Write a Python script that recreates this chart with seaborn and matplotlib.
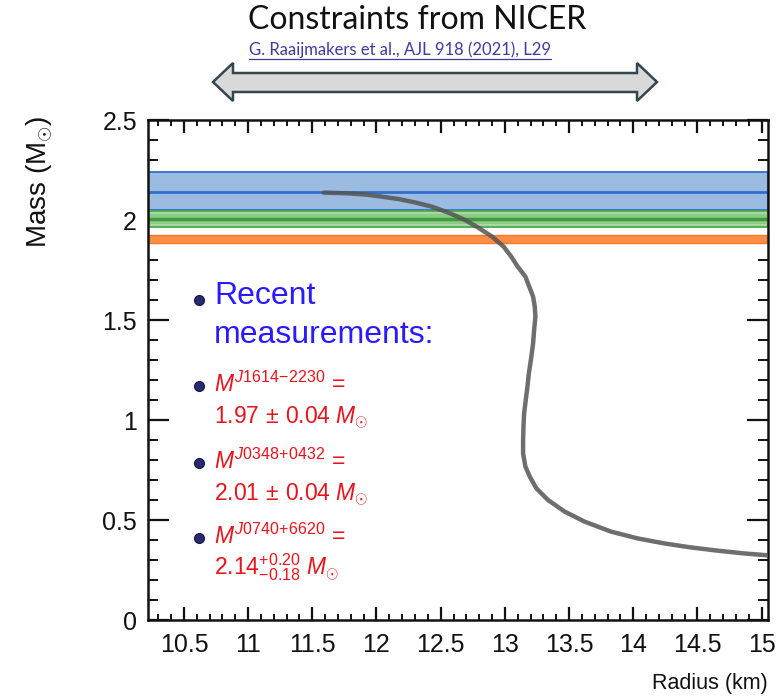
import matplotlib
matplotlib.use("Agg")
import matplotlib.pyplot as plt
import seaborn as sns
import numpy as np
import pandas as pd
from matplotlib.patches import Polygon
from matplotlib.lines import Line2D
from matplotlib.ticker import MultipleLocator

# Mass-radius relation (km, solar masses)
radius_km = [11.59, 11.79, 11.92, 12.04, 12.17, 12.30, 12.43, 12.56, 12.69,
             12.79, 12.90, 12.99, 13.05, 13.10, 13.16, 13.19, 13.22, 13.233,
             13.238, 13.228, 13.22, 13.205, 13.187, 13.176, 13.163,
             13.150, 13.145, 13.142, 13.142, 13.160, 13.194, 13.246, 13.336,
             13.466, 13.621, 13.827, 14.034, 14.241, 14.447, 14.654, 14.861,
             15.016, 15.06]
mass_msun = [2.137, 2.133, 2.127, 2.117, 2.105, 2.088, 2.067, 2.037, 2.000,
             1.963, 1.917, 1.867, 1.817, 1.767, 1.717, 1.667, 1.617, 1.567,
             1.517, 1.450, 1.383, 1.310, 1.233, 1.167, 1.100,
             1.033, 0.967, 0.900, 0.833, 0.767, 0.717, 0.658, 0.600,
             0.542, 0.492, 0.442, 0.408, 0.383, 0.363, 0.347, 0.333,
             0.325, 0.322]

# Pulsar mass bands: centre, upper error, lower error
band_names = ["J0740+6620", "J0348+0432", "J1614-2230"]
band_center = [2.14, 2.005, 1.905]
band_up = [0.10, 0.04, 0.022]
band_dn = [0.09, 0.04, 0.022]

x_ticks = [10.5, 11, 11.5, 12, 12.5, 13, 13.5, 14, 14.5, 15]
x_tick_labels = ["10.5", "11", "11.5", "12", "12.5", "13", "13.5", "14", "14.5", "15"]
y_ticks = [0, 0.5, 1, 1.5, 2, 2.5]
y_tick_labels = ["0", "0.5", "1", "1.5", "2", "2.5"]

sns.set_theme(style="ticks")
plt.rcParams["font.family"] = ["Liberation Sans", "DejaVu Sans"]
plt.rcParams["mathtext.fontset"] = "custom"
plt.rcParams["mathtext.rm"] = "Liberation Sans"
plt.rcParams["mathtext.it"] = "Liberation Sans:italic"
plt.rcParams["mathtext.sf"] = "Liberation Sans"

W, H = 780, 699
fig = plt.figure(figsize=(W / 100, H / 100), dpi=100)


def fx(px):
    return px / W


def fy(py):
    return 1 - py / H


ax = fig.add_axes([fx(148), fy(620), fx(768) - fx(148), fy(120) - fy(620)])

df = pd.DataFrame({"radius": radius_km, "mass": mass_msun})
sns.lineplot(data=df, x="radius", y="mass", sort=False, estimator=None,
             color="#555555", lw=3.2, alpha=0.85, ax=ax, zorder=5)

# J0740+6620 (blue)
c, u, d = band_center[0], band_up[0], band_dn[0]
ax.axhspan(c - d, c + u, facecolor="#9bbce0", edgecolor="#2f6fd0", lw=1.3, zorder=2)
ax.axhline(c, color="#2f6fd0", lw=2, zorder=2.1)
# J0348+0432 (green)
c, u, d = band_center[1], band_up[1], band_dn[1]
ax.axhspan(c - d, c + u, facecolor="#a9d9a2", edgecolor="#4aab4a", lw=1.3, zorder=2)
ax.axhspan(c - 0.6 * d, c + 0.6 * u, facecolor="#8cca86", edgecolor="none", zorder=2.05)
ax.axhline(c, color="#3d9c3d", lw=2.5, zorder=2.1)
# J1614-2230 (orange)
c, u, d = band_center[2], band_up[2], band_dn[2]
ax.axhspan(c - d, c + u, facecolor="#ff8d45", edgecolor="#f57a2a", lw=1.0, zorder=2)

ax.set_xlim(10.22, 15.05)
ax.set_ylim(0, 2.5)
ax.set_xticks(x_ticks)
ax.set_xticklabels(x_tick_labels)
ax.set_yticks(y_ticks)
ax.set_yticklabels(y_tick_labels)
ax.xaxis.set_minor_locator(MultipleLocator(0.1))
ax.yaxis.set_minor_locator(MultipleLocator(0.1))
ax.tick_params(which="both", direction="in", top=True, right=True,
               color="#111111", labelsize=18, labelcolor="#111111")
ax.tick_params(axis="x", which="major", length=9.5, width=1.6, pad=9)
ax.tick_params(axis="x", which="minor", length=4.5, width=1.4)
ax.tick_params(axis="y", which="major", length=15, width=1.6, pad=8)
ax.tick_params(axis="y", which="minor", length=7.5, width=1.4)
for s in ax.spines.values():
    s.set_visible(True)
    s.set_linewidth(1.8)
    s.set_color("#111111")
ax.set_xlabel("")
ax.set_ylabel("")
ax.set_facecolor("white")

fig.text(fx(768), fy(683), "Radius (km)", ha="right", va="center",
         fontsize=15.5, color="#111111")
fig.text(fx(40), fy(182), r"Mass (M$_{\odot}$)", ha="center", va="center",
         rotation=90, fontsize=20, color="#111111")

# Bulleted notes inside the axes
bullet_color = "#2a2a70"
for bx, by in [(199, 300), (199, 386), (199, 463), (199, 538)]:
    fig.add_artist(Line2D([fx(bx)], [fy(by)], marker="o", markersize=7,
                          color=bullet_color, markeredgecolor="#1a1a50", lw=0))

fig.text(fx(214), fy(296), "Recent", color="#2a1aff", fontsize=23, va="center")
fig.text(fx(214), fy(335), "measurements:", color="#2a1aff", fontsize=23, va="center")

red = "#e8141c"
notes = [
    (384, r"$M^{J1614\!-\!2230}$ =", 418, r"1.97$\,\pm\,$0.04 $M_{\odot}$"),
    (461, r"$M^{J0348\!+\!0432}$ =", 495, r"2.01$\,\pm\,$0.04 $M_{\odot}$"),
    (536, r"$M^{J0740\!+\!6620}$ =", 567, r"2.14$^{+0.20}_{-0.18}$ $M_{\odot}$"),
]
for y1, t1, y2, t2 in notes:
    fig.text(fx(214), fy(y1), t1, color=red, fontsize=16.5, va="center")
    fig.text(fx(214), fy(y2), t2, color=red, fontsize=16.5, va="center")

# Header
fig.text(fx(417), fy(20), "Constraints from NICER", ha="center", va="center",
         fontsize=23, family=["Lato", "DejaVu Sans"], color="#111111")
ref = fig.text(fx(249), fy(50), "G. Raaijmakers et al., AJL 918 (2021), L29",
               ha="left", va="center", fontsize=12, family=["Lato", "DejaVu Sans"],
               color="#3b3ba0")
fig.canvas.draw()
bb = ref.get_window_extent()
fig.add_artist(Line2D([bb.x0 / W, bb.x1 / W], [bb.y0 / H - 0.001, bb.y0 / H - 0.001],
                      color="#3b3ba0", lw=0.9))

arrow_px = [(213, 82), (233, 63), (233, 73), (637, 73), (637, 63), (657, 82),
            (637, 101), (637, 92), (233, 92), (233, 101)]
fig.add_artist(Polygon([(fx(x), fy(y)) for x, y in arrow_px], closed=True,
                       facecolor="#d9d9d9", edgecolor="#34474f", lw=1.8))

fig.savefig("out.png", dpi=100, facecolor="white")
